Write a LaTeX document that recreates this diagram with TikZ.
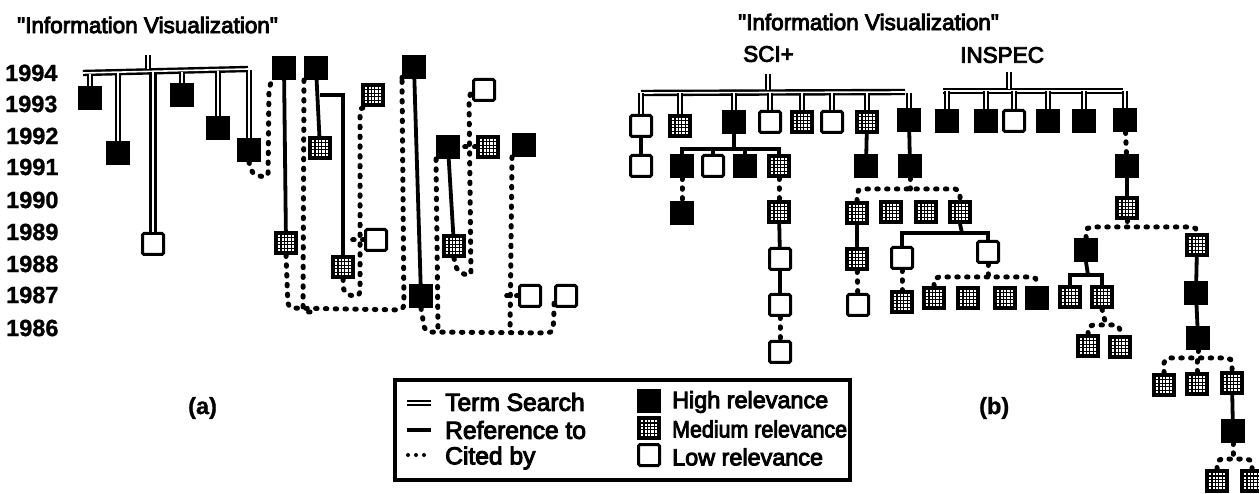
\documentclass[tikz,border=0pt]{standalone}
\usepackage{fontspec}
\setmainfont{Liberation Sans}
\newfontfamily\scanfont[FakeBold=4]{Liberation Sans}
\newfontfamily\boldscan[FakeBold=1]{Liberation Sans Bold}
\begin{document}
\begin{tikzpicture}[x=1pt,y=-1pt,
  box/.style={rectangle,minimum size=21pt,inner sep=0pt,line width=3pt,draw=black},
  hi/.style={box,fill=black},
  lo/.style={box,fill=white,rounded corners=1.5pt},
  med/.style={box,fill=black,path picture={
     \foreach \i in {-2,...,2}{\foreach \j in {-2,...,2}{
       \fill[white] ([shift={(\i*3.4-1.1,\j*3.4-1.1)}]path picture bounding box.center) rectangle ++(2.3,2.3);}}}},
  ttl/.style={anchor=west,inner sep=0pt,font=\fontsize{22.5}{24}\scanfont},
  yr/.style={anchor=west,inner sep=0pt,font=\fontsize{23.5}{25}\boldscan},
  leg/.style={anchor=west,inner sep=0pt,font=\fontsize{24.6}{26}\scanfont},
  legr/.style={anchor=west,inner sep=0pt,font=\fontsize{23.4}{26}\scanfont},
  sol/.style={line width=3.8pt,draw=black},
  dbl/.style={draw=black,double=white,line width=2.4pt,double distance=1.6pt},
  dbw/.style={draw=black,double=white,line width=2.4pt,double distance=2.6pt},
  dot/.style={draw=black,line width=5pt,line cap=round,dash pattern=on 1.5pt off 8.3pt,rounded corners=5pt}]
\useasboundingbox (0,0) rectangle (1259,494);
% texts
\node[ttl] (t1) at (17,25) {"Information Visualization"};
\node[ttl] (t2) at (738,22) {"Information Visualization"};
\node[ttl] (sci) at (743,54) {SCI+};
\node[ttl] (ins) at (960,55) {INSPEC};
\node[yr] (y94) at (5,73) {1994};
\node[yr] (y93) at (5,104) {1993};
\node[yr] (y92) at (6,136) {1992};
\node[yr] (y91) at (6,167) {1991};
\node[yr] (y90) at (6,200) {1990};
\node[yr] (y89) at (6,232) {1989};
\node[yr] (y88) at (6,264) {1988};
\node[yr] (y87) at (6,295) {1987};
\node[yr] (y86) at (6,328) {1986};
\node[yr] (capa) at (188,408) {(a)};
\node[yr] (capb) at (979,408) {(b)};
% left diagram
\coordinate (lb1) at (83,73); \coordinate (lb2) at (248,69);
\coordinate (lbt) at (148,55); \coordinate (lbm) at (148,69);
\node[hi] (a1) at (90,98) {};
\node[hi] (a2) at (118,153) {};
\node[lo] (a3) at (153,244) {};
\node[hi] (a4) at (182,95) {};
\node[hi] (a5) at (218,128) {};
\node[hi] (a6) at (249,150) {};
\node[hi] (b1) at (284,68) {};
\node[med] (b2) at (286,243) {};
\node[hi] (c1) at (316,68) {};
\node[med] (c2) at (320,148) {};
\node[med] (c3) at (343,267) {};
\node[med] (c4) at (373,95) {};
\node[lo] (c5) at (376,240) {};
\node[hi] (d1) at (414,67) {};
\node[hi] (d2) at (421,296) {};
\node[hi] (e1) at (448,147) {};
\node[med] (e2) at (454,246) {};
\node[lo] (e3) at (484,90) {};
\node[med] (e4) at (488,147) {};
\node[hi] (f1) at (524,145) {};
\node[lo] (f2) at (530,296) {};
\node[lo] (f3) at (566,296) {};
\draw[dbl] (lb1) -- (lb2);
\draw[dbl] (lbt) -- (lbm);
\foreach \n/\yy in {a1/74,a2/73,a4/72,a5/71,a6/70}{\draw[dbl] (\n.north) -- (\n.north |- 0,\yy);}
\draw[dbw] (a3.north) -- (a3.north |- 0,72);
\draw[sol] (b1) -- (b2);
\draw[sol] (c1) -- (c2);
\coordinate (cbr) at (320,95);
\draw[sol] (cbr) -| (c3.north);
\draw[sol] (d1) -- (d2);
\draw[sol] (e1) -- (e2);
\draw[dot] (a6.south) -- ++(3,12) -- ++(16,4) -- ++(1,-90) -- (b1.south west);
\draw[dot] (b2.south) -- ++(2,53) -- ++(116,2) -- ++(-2,-230) -- (d1.south west);
\draw[dot] (c1.south west) -- ++(-1,232) -- ++(8,0);
\draw[dot] (c3.south) -- ++(1,15) -- ++(16,3) -- ++(0,-190) -- (c4.south west);
\draw[dot] (c5.west) -- ++(-12,0);
\draw[dot] (d2.south) -- ++(4,24) -- ++(128,1) -- ++(1,-22) -- (f3.west);
\draw[dot] (e1.south west) -- ++(2,170);
\draw[dot] (f1.south west) -- ++(-2,175);
\draw[dot] (f2.west) -- ++(-16,0);
\draw[dot] (e2.south) -- ++(3,13) -- ++(14,6) -- ++(-2,-180) -- (e3.west);
\draw[dot] (e4.west) -- ++(-14,0);
% SCI+
\coordinate (sb1) at (641,93); \coordinate (sb2) at (905,92);
\coordinate (sbt) at (768,74); \coordinate (sbm) at (768,90);
\node[lo] (s1) at (641,126) {};
\node[med] (s2) at (680,126) {};
\node[hi] (s3) at (734,122) {};
\node[lo] (s4) at (770,122) {};
\node[med] (s5) at (802,122) {};
\node[lo] (s6) at (832,122) {};
\node[med] (s7) at (867,122) {};
\node[hi] (s8) at (909,120) {};
\node[lo] (s11) at (641,166) {};
\node[hi] (s31) at (682,166) {};
\node[lo] (s32) at (713,166) {};
\node[hi] (s33) at (745,166) {};
\node[med] (s34) at (779,166) {};
\node[hi] (s71) at (866,166) {};
\node[hi] (s81) at (910,166) {};
\node[hi] (s311) at (682,213) {};
\node[med] (s341) at (779,212) {};
\node[lo] (s342) at (780,259) {};
\node[lo] (s343) at (780,305) {};
\node[lo] (s344) at (780,352) {};
\node[med] (m1) at (857,213) {};
\node[med] (m2) at (891,212) {};
\node[med] (m3) at (926,212) {};
\node[med] (m4) at (960,212) {};
\node[med] (m11) at (857,259) {};
\node[lo] (m12) at (858,305) {};
\node[lo] (w1) at (902,258) {};
\node[lo] (w2) at (988,252) {};
\node[med] (p0) at (902,302) {};
\node[med] (p1) at (934,298) {};
\node[med] (p2) at (968,298) {};
\node[med] (p3) at (1005,298) {};
\node[hi] (p4) at (1037,298) {};
% INSPEC
\coordinate (ib1) at (943,91); \coordinate (ib2) at (1123,91);
\coordinate (ibt) at (1009,72); \coordinate (ibm) at (1009,89);
\node[hi] (i1) at (947,121) {};
\node[hi] (i2) at (986,121) {};
\node[lo] (i3) at (1014,121) {};
\node[hi] (i4) at (1048,121) {};
\node[hi] (i5) at (1084,121) {};
\node[hi] (i6) at (1125,120) {};
\node[hi] (i7) at (1127,166) {};
\node[med] (i8) at (1127,208) {};
\node[hi] (j1) at (1086,250) {};
\node[med] (j2) at (1070,297) {};
\node[med] (j3) at (1102,297) {};
\node[med] (j4) at (1088,346) {};
\node[med] (j5) at (1120,347) {};
\node[med] (k1) at (1197,245) {};
\node[hi] (k2) at (1196,293) {};
\node[hi] (k3) at (1198,338) {};
\node[med] (k4) at (1164,385) {};
\node[med] (k5) at (1197,384) {};
\node[med] (k6) at (1232,383) {};
\node[hi] (k7) at (1233,431) {};
\node[med] (k8) at (1217,481) {};
\node[med] (k9) at (1252,481) {};
% SCI+ connectors
\draw[dbl] (sb1) -- (sb2);
\draw[dbl] (sbt) -- (sbm);
\foreach \n in {s1,s2,s3,s4,s5,s6,s7,s8}{\draw[dbl] (\n.north) -- (\n.north |- sb1);}
\draw[sol] (s1) -- (s11);
\coordinate (br1) at (734,149);
\draw[sol] (s3) -- (br1);
\draw[sol] (s31.north) |- (br1) -| (s34.north);
\draw[sol] (s32.north) -- (s32.north |- br1);
\draw[sol] (s33.north) -- (s33.north |- br1);
\draw[sol] (s7) -- (s71);
\draw[sol] (s8) -- (s81);
\draw[dot] (s31) -- (s311);
\draw[dot] (s34) -- (s341);
\draw[sol] (s341) -- (s342);
\draw[sol] (s342) -- (s343);
\draw[dot] (s343) -- (s344);
\coordinate (br2) at (910,189);
\draw[dot] (s81.south) -- (br2);
\draw[dot] (m1.north) |- (br2) -| (m4.north);
\draw[sol] (m1) -- (m11);
\draw[dot] (m11) -- (m12);
\coordinate (br3) at (962,233);
\draw[sol] (m4.south) -- (br3);
\draw[sol] (w1.north) |- (br3) -| (w2.north);
\draw[dot] (w1) -- (p0);
\coordinate (br4) at (988,277);
\draw[dot] (w2.south) -- (br4);
\draw[dot] (p1.north) |- (br4) -| (p4.north);
% INSPEC connectors
\draw[dbl] (ib1) -- (ib2);
\draw[dbl] (ibt) -- (ibm);
\foreach \n in {i1,i2,i3,i4,i5,i6}{\draw[dbl] (\n.north) -- (\n.north |- ib1);}
\draw[dot] (i6) -- (i7);
\draw[sol] (i7) -- (i8);
\coordinate (br5) at (1127,227);
\draw[dot] (i8.south) -- (br5);
\draw[dot] (j1.north) |- (br5) -| (k1.north);
\coordinate (br6) at (1088,275);
\draw[sol] (j1.south) -- (br6);
\draw[sol] (j2.north) |- (br6) -| (j3.north);
\coordinate (br7) at (1106,325);
\draw[dot] (j3.south) -- (br7);
\draw[dot] (j4.north) |- (br7) -| (j5.north);
\draw[sol] (k1) -- (k2);
\draw[sol] (k2) -- (k3);
\coordinate (br8) at (1198,358);
\draw[dot] (k3.south) -- (br8);
\draw[dot] (k4.north) |- (br8) -| (k6.north);
\draw[dot] (k5.north) -- (k5.north |- br8);
\draw[sol] (k6) -- (k7);
\coordinate (br9) at (1233,459);
\draw[dot] (k7.south) -- (br9);
\draw[dot] (k8.north) |- (br9) -| (k9.north);
% legend
\node[draw=black,line width=4pt,minimum width=455pt,minimum height=100pt,inner sep=0pt] (lg) at (622.5,430) {};
\coordinate (l1a) at (407,403); \coordinate (l1b) at (431,403);
\coordinate (l2a) at (407,430); \coordinate (l2b) at (431,430);
\coordinate (l3a) at (408,455); \coordinate (l3b) at (431,455);
\draw[draw=black,double=white,line width=2pt,double distance=1.4pt] (l1a) -- (l1b);
\draw[sol] (l2a) -- (l2b);
\draw[dot,line width=4pt,dash pattern=on 0pt off 8pt] (l3a) -- (l3b);
\node[leg] (tt) at (445,402) {Term Search};
\node[leg] (tr) at (445,430) {Reference to};
\node[leg] (tc) at (445,458) {Cited by};
\node[hi] (lh) at (649,401) {};
\node[med] (lm) at (649,428) {};
\node[lo] (ll) at (649,455) {};
\node[legr] (th) at (672,402) {High relevance};
\node[legr] (tm) at (672,429) {\scalebox{0.915}[1]{Medium relevance}};
\node[legr] (tl) at (672,457) {Low relevance};
\end{tikzpicture}
\end{document}
